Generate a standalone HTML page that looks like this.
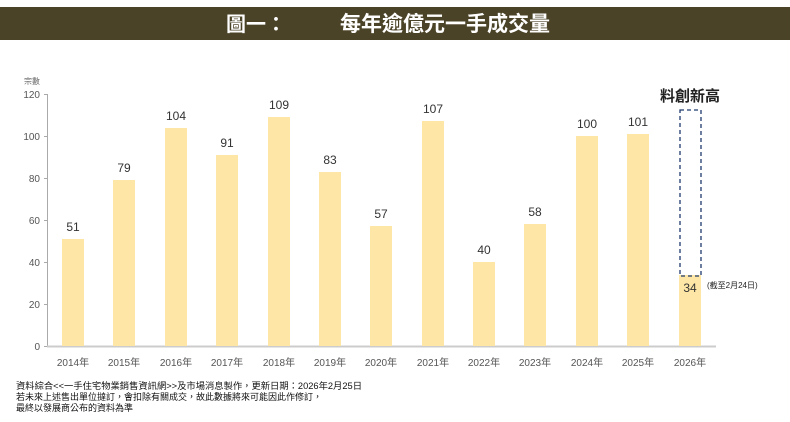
<!DOCTYPE html>
<html><head><meta charset="utf-8"><style>
body{margin:0;background:#fff;width:790px;height:417px;overflow:hidden;font-family:"Liberation Sans","Noto Sans CJK TC",sans-serif}
</style></head><body>
<svg width="790" height="417" xmlns="http://www.w3.org/2000/svg" font-family="Liberation Sans, Noto Sans CJK TC, sans-serif">
<rect x="0" y="7" width="790" height="33" fill="#4b4327"/>
<text x="226" y="31" fill="#fff" font-size="20" font-weight="bold">圖一：</text>
<text x="340" y="31" fill="#fff" font-size="21" font-weight="bold">每年逾億元一手成交量</text>
<text x="24" y="84" font-size="8" fill="#666">宗數</text>
<g font-size="10" fill="#555" text-anchor="end">
<text x="40" y="98">120</text><text x="40" y="140">100</text><text x="40" y="182">80</text>
<text x="40" y="224">60</text><text x="40" y="266">40</text><text x="40" y="308">20</text><text x="40" y="350">0</text>
</g>
<g stroke="#aaa" stroke-width="1">
<line x1="47.5" y1="94" x2="47.5" y2="346"/>
<line x1="44" y1="94.5" x2="47" y2="94.5"/><line x1="44" y1="136.5" x2="47" y2="136.5"/><line x1="44" y1="178.5" x2="47" y2="178.5"/>
<line x1="44" y1="220.5" x2="47" y2="220.5"/><line x1="44" y1="262.5" x2="47" y2="262.5"/><line x1="44" y1="304.5" x2="47" y2="304.5"/><line x1="44" y1="346.5" x2="47" y2="346.5"/>
</g>
<line x1="47" y1="346.5" x2="716" y2="346.5" stroke="#ccc" stroke-width="2"/>
<g fill="#fde6a6">
<rect x="62" y="239" width="22" height="107"/>
<rect x="113" y="180" width="22" height="166"/>
<rect x="165" y="128" width="22" height="218"/>
<rect x="216" y="155" width="22" height="191"/>
<rect x="268" y="117" width="22" height="229"/>
<rect x="319" y="172" width="22" height="174"/>
<rect x="370" y="226" width="22" height="120"/>
<rect x="422" y="121" width="22" height="225"/>
<rect x="473" y="262" width="22" height="84"/>
<rect x="524" y="224" width="22" height="122"/>
<rect x="576" y="136" width="22" height="210"/>
<rect x="627" y="134" width="22" height="212"/>
<rect x="679" y="275" width="22" height="71"/>
</g>
<rect x="680" y="110" width="21" height="166" fill="none" stroke="#1f3a6e" stroke-width="1.3" stroke-dasharray="4,3"/>
<g font-size="12" fill="#333" text-anchor="middle">
<text x="73" y="231">51</text><text x="124" y="172">79</text><text x="176" y="120">104</text>
<text x="227" y="147">91</text><text x="279" y="109">109</text><text x="330" y="164">83</text>
<text x="381" y="218">57</text><text x="433" y="113">107</text><text x="484" y="254">40</text>
<text x="535" y="216">58</text><text x="587" y="128">100</text><text x="638" y="126">101</text>
<text x="690" y="292">34</text>
</g>
<text x="690" y="101" font-size="15" font-weight="bold" fill="#222" text-anchor="middle">料創新高</text>
<text x="707" y="288" font-size="8" fill="#222">(截至2月24日)</text>
<g font-size="10" fill="#555" text-anchor="middle">
<text x="73" y="366">2014年</text><text x="124" y="366">2015年</text><text x="176" y="366">2016年</text>
<text x="227" y="366">2017年</text><text x="279" y="366">2018年</text><text x="330" y="366">2019年</text>
<text x="381" y="366">2020年</text><text x="433" y="366">2021年</text><text x="484" y="366">2022年</text>
<text x="535" y="366">2023年</text><text x="587" y="366">2024年</text><text x="638" y="366">2025年</text>
<text x="690" y="366">2026年</text>
</g>
<g font-size="9" fill="#111">
<text x="16" y="389" textLength="346" lengthAdjust="spacingAndGlyphs">資料綜合&lt;&lt;一手住宅物業銷售資訊網&gt;&gt;及市場消息製作，更新日期：2026年2月25日</text>
<text x="16" y="400">若未來上述售出單位撻訂，會扣除有關成交，故此數據將來可能因此作修訂，</text>
<text x="16" y="411">最終以發展商公布的資料為準</text>
</g>
</svg>
</body></html>
